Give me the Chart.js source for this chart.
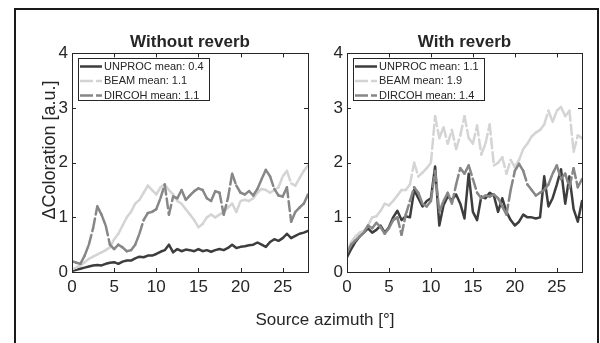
<!DOCTYPE html>
<html lang="en">
  <head>
    <meta charset="UTF-8" />
    <title>Coloration vs source azimuth</title>
    <script src="https://cdn.jsdelivr.net/npm/chart.js"></script>
    <style>
      body {
        margin: 0;
        width: 600px;
        height: 343px;
        overflow: hidden;
        background: #fff;
        font-family: "Liberation Sans", Arial, sans-serif;
        color: #262626;
      }
      .frame {
        position: absolute;
        left: 14px;
        top: 8px;
        width: 581px;
        height: 350px;
        border: 2px solid #1a1a1a;
      }
      canvas {
        position: absolute;
        top: 11px;
      }
      #chartDry {
        left: 16px;
      }
      #chartWet {
        left: 320px;
      }
      .xlabel {
        position: absolute;
        left: 225px;
        top: 310px;
        width: 200px;
        line-height: 20px;
        text-align: center;
        font-size: 17px;
      }
      .ylabel {
        position: absolute;
        left: -51px;
        top: 140px;
        width: 200px;
        line-height: 20px;
        text-align: center;
        font-size: 18px;
        transform: rotate(-90deg);
      }
    </style>
  </head>
  <body>
    <div class="frame"></div>
    <canvas id="chartDry" width="300" height="300"></canvas>
    <canvas id="chartWet" width="280" height="300"></canvas>
    <div class="xlabel">Source azimuth [°]</div>
    <div class="ylabel">ΔColoration [a.u.]</div>

    <script>
      // source azimuth in degrees
      const azimuth = [
        0, 0.5, 1, 1.5, 2, 2.5, 3, 3.5, 4, 4.5, 5, 5.5, 6, 6.5, 7, 7.5, 8, 8.5,
        9, 9.5, 10, 10.5, 11, 11.5, 12, 12.5, 13, 13.5, 14, 14.5, 15, 15.5, 16,
        16.5, 17, 17.5, 18, 18.5, 19, 19.5, 20, 20.5, 21, 21.5, 22, 22.5, 23,
        23.5, 24, 24.5, 25, 25.5, 26, 26.5, 27, 27.5, 28,
      ];
      const xTicks = [0, 5, 10, 15, 20, 25];
      const yTicks = [0, 1, 2, 3, 4];

      const seriesNames = ["UNPROC", "BEAM", "DIRCOH"];
      const meansDry = ["0.4", "1.1", "1.1"];
      const meansWet = ["1.1", "1.9", "1.4"];

      // without reverb
      const unprocDry = [
        0.02, 0.04, 0.06, 0.08, 0.1, 0.12, 0.13, 0.12, 0.15, 0.17,
        0.18, 0.15, 0.19, 0.21, 0.21, 0.25, 0.28, 0.27, 0.3, 0.3,
        0.33, 0.37, 0.4, 0.5, 0.36, 0.42, 0.38, 0.41, 0.4, 0.38,
        0.42, 0.38, 0.4, 0.37, 0.4, 0.42, 0.4, 0.44, 0.5, 0.44,
        0.46, 0.47, 0.49, 0.5, 0.54, 0.5, 0.46, 0.55, 0.6, 0.57,
        0.62, 0.7, 0.62, 0.66, 0.7, 0.72, 0.75,
      ];
      const beamDry = [
        0.05, 0.08, 0.12, 0.18, 0.24, 0.28, 0.32, 0.36, 0.4, 0.45,
        0.6, 0.7, 0.85, 1.0, 1.1, 1.25, 1.32, 1.45, 1.58, 1.5,
        1.42, 1.55, 1.6, 1.5, 1.42, 1.3, 1.25, 1.15, 1.05, 0.95,
        0.82, 0.88, 1.0, 1.05, 1.0, 1.05, 1.1, 1.18, 1.25, 1.1,
        1.3, 1.32, 1.3, 1.35, 1.45, 1.52, 1.5, 1.45, 1.5, 1.55,
        1.75, 1.85, 1.62, 1.58, 1.72, 1.85, 1.95,
      ];
      const dircohDry = [
        0.2, 0.17, 0.15, 0.3, 0.5, 0.8, 1.2, 1.05, 0.85, 0.5,
        0.42, 0.5, 0.45, 0.38, 0.4, 0.5, 0.7, 0.95, 1.08, 1.1,
        1.15, 1.35, 1.6, 1.05, 1.38, 1.35, 1.5, 1.32, 1.4, 1.48,
        1.53, 1.5, 1.35, 1.3, 1.48, 1.45, 1.05, 1.35, 1.8, 1.58,
        1.45, 1.42, 1.48, 1.4, 1.52, 1.7, 1.87, 1.75, 1.52, 1.4,
        1.38, 1.55, 0.92, 1.1, 1.18, 1.25, 1.42,
      ];

      // with reverb
      const unprocWet = [
        0.27, 0.42, 0.55, 0.65, 0.72, 0.8, 0.72, 0.77, 0.85, 0.72,
        0.82, 1.0, 1.12, 0.95, 1.02, 1.0, 1.5, 1.35, 1.2, 1.3,
        1.35, 1.93, 0.85, 1.22, 1.38, 1.32, 1.42, 1.25, 0.98, 1.8,
        1.1, 0.95, 1.38, 1.35, 1.45, 1.4, 1.1, 1.35, 1.1, 0.95,
        0.85, 0.92, 1.05, 1.0, 1.0, 0.98, 1.0, 1.75, 1.2, 1.35,
        1.6, 1.88, 1.25, 1.75, 1.15, 0.92, 1.3,
      ];
      const beamWet = [
        0.38, 0.55, 0.65, 0.72, 0.75, 0.85, 1.0, 1.02, 1.12, 1.25,
        1.22, 1.3, 1.4, 1.5, 1.5, 1.6, 2.0, 1.75, 1.82, 1.9,
        2.0, 2.85, 2.45, 2.65, 2.35, 2.6, 2.25, 2.5, 2.85, 2.45,
        2.35, 2.68, 2.15, 2.35, 2.7, 1.95, 2.0, 2.1, 1.8, 2.05,
        1.92, 2.05, 2.25, 2.35, 2.48, 2.55, 2.6, 2.7, 2.95, 2.75,
        2.95, 3.02, 2.85, 2.95, 2.2, 2.5, 2.45,
      ];
      const dircohWet = [
        0.35, 0.5, 0.58, 0.65, 0.72, 0.85, 0.8, 0.9, 0.82, 0.7,
        0.8, 0.95, 1.0, 0.68, 1.05, 1.3, 1.55, 1.45, 1.25, 1.2,
        1.3, 1.85, 1.1, 1.3, 1.45, 1.25, 1.6, 1.9, 1.8, 1.95,
        1.7, 1.45, 1.35, 1.4, 1.38, 1.42, 1.35, 1.2, 1.05, 1.5,
        1.85, 1.98, 1.85, 1.6, 1.5, 1.4, 1.45, 1.5, 1.6, 1.8,
        1.95, 1.7, 1.8, 1.55, 1.9, 1.55, 1.7,
      ];

      const colors = ["#3d3d3d", "#d4d4d4", "#878787"];
      const axisColor = "#262626";
      const fontFamily = '"Liberation Sans", Arial, sans-serif';
      const dash = [10, 4];

      function toPoints(values) {
        return values.map((v, i) => ({ x: azimuth[i], y: v }));
      }

      // matlab style: dash pattern restarts on every segment
      function makeDatasets(series, means) {
        return series.map((values, i) => {
          let ds = {
            label: seriesNames[i] + " mean: " + means[i],
            data: toPoints(values),
            borderColor: colors[i],
            borderWidth: 2.5,
            pointRadius: 0,
            tension: 0,
            fill: false,
            order: 3 - i,
            borderCapStyle: "round",
            borderJoinStyle: "round",
            legendDash: i === 0 ? [] : [13, 3],
          };
          if (i > 0) {
            ds.borderDash = dash;
            ds.segment = {
              borderDash: () => dash,
              borderDashOffset: (c) => (c.p0DataIndex % 2 ? 0.01 : 0),
            };
          }
          return ds;
        });
      }

      const boxPlugin = {
        id: "box",
        afterDatasetsDraw(chart) {
          const { ctx, chartArea: a, scales } = chart;
          ctx.save();
          ctx.strokeStyle = axisColor;
          ctx.lineWidth = 1;
          ctx.strokeRect(
            Math.round(a.left) + 0.5,
            Math.round(a.top) + 0.5,
            Math.round(a.right - a.left),
            Math.round(a.bottom - a.top)
          );
          ctx.beginPath();
          xTicks.forEach((v) => {
            const px = Math.round(scales.x.getPixelForValue(v)) + 0.5;
            ctx.moveTo(px, a.bottom);
            ctx.lineTo(px, a.bottom - 4);
            ctx.moveTo(px, a.top);
            ctx.lineTo(px, a.top + 4);
          });
          yTicks.forEach((v) => {
            const py = Math.round(scales.y.getPixelForValue(v)) + 0.5;
            ctx.moveTo(a.left, py);
            ctx.lineTo(a.left + 4, py);
            ctx.moveTo(a.right, py);
            ctx.lineTo(a.right - 4, py);
          });
          ctx.stroke();
          ctx.restore();
        },
        afterDraw(chart) {
          const { ctx, chartArea: a } = chart;
          const ds = chart.data.datasets;
          ctx.save();
          ctx.font = "11px " + fontFamily;
          const tw = Math.max(...ds.map((d) => ctx.measureText(d.label).width));
          const bx = Math.round(a.left) + 6;
          const by = Math.round(a.top) + 5;
          const bw = Math.round(26 + tw + 5);
          const bh = 42;
          ctx.fillStyle = "#fff";
          ctx.fillRect(bx, by, bw, bh);
          ctx.strokeStyle = axisColor;
          ctx.lineWidth = 1;
          ctx.strokeRect(bx + 0.5, by + 0.5, bw, bh);
          ds.forEach((d, i) => {
            const yy = by + 8.5 + i * 14.5;
            ctx.strokeStyle = d.borderColor;
            ctx.lineWidth = 2.5;
            ctx.setLineDash(d.legendDash);
            ctx.beginPath();
            ctx.moveTo(bx + 2, yy);
            ctx.lineTo(bx + 24, yy);
            ctx.stroke();
            ctx.setLineDash([]);
            ctx.fillStyle = axisColor;
            ctx.textBaseline = "middle";
            ctx.fillText(d.label, bx + 26, yy);
          });
          ctx.restore();
        },
      };

      function makeOptions(title, yWidth, padRight) {
        return {
          responsive: false,
          animation: false,
          layout: { padding: { left: 0, right: padRight, top: 0, bottom: 0 } },
          plugins: {
            legend: { display: false },
            tooltip: { enabled: false },
            title: {
              display: true,
              text: title,
              fullSize: false,
              color: axisColor,
              font: { family: fontFamily, size: 17, weight: "bold" },
              padding: { top: 21, bottom: 1 },
            },
          },
          scales: {
            x: {
              type: "linear",
              min: 0,
              max: 28,
              grid: { display: false, drawTicks: false },
              border: { display: false },
              ticks: {
                color: axisColor,
                padding: 5,
                maxRotation: 0,
                font: { family: fontFamily, size: 17 },
              },
              afterBuildTicks: (s) => {
                s.ticks = xTicks.map((v) => ({ value: v }));
              },
              afterFit: (s) => {
                s.height = 39;
              },
            },
            y: {
              min: 0,
              max: 4,
              grid: { display: false, drawTicks: false },
              border: { display: false },
              ticks: {
                color: axisColor,
                padding: 4,
                font: { family: fontFamily, size: 17 },
              },
              afterBuildTicks: (s) => {
                s.ticks = yTicks.map((v) => ({ value: v }));
              },
              afterFit: (s) => {
                s.width = yWidth;
              },
            },
          },
        };
      }

      let chartDry = new Chart(document.getElementById("chartDry"), {
        type: "line",
        data: { datasets: makeDatasets([unprocDry, beamDry, dircohDry], meansDry) },
        options: makeOptions("Without reverb", 56, 8),
        plugins: [boxPlugin],
      });

      let chartWet = new Chart(document.getElementById("chartWet"), {
        type: "line",
        data: { datasets: makeDatasets([unprocWet, beamWet, dircohWet], meansWet) },
        options: makeOptions("With reverb", 27, 18),
        plugins: [boxPlugin],
      });
    </script>
  </body>
</html>
